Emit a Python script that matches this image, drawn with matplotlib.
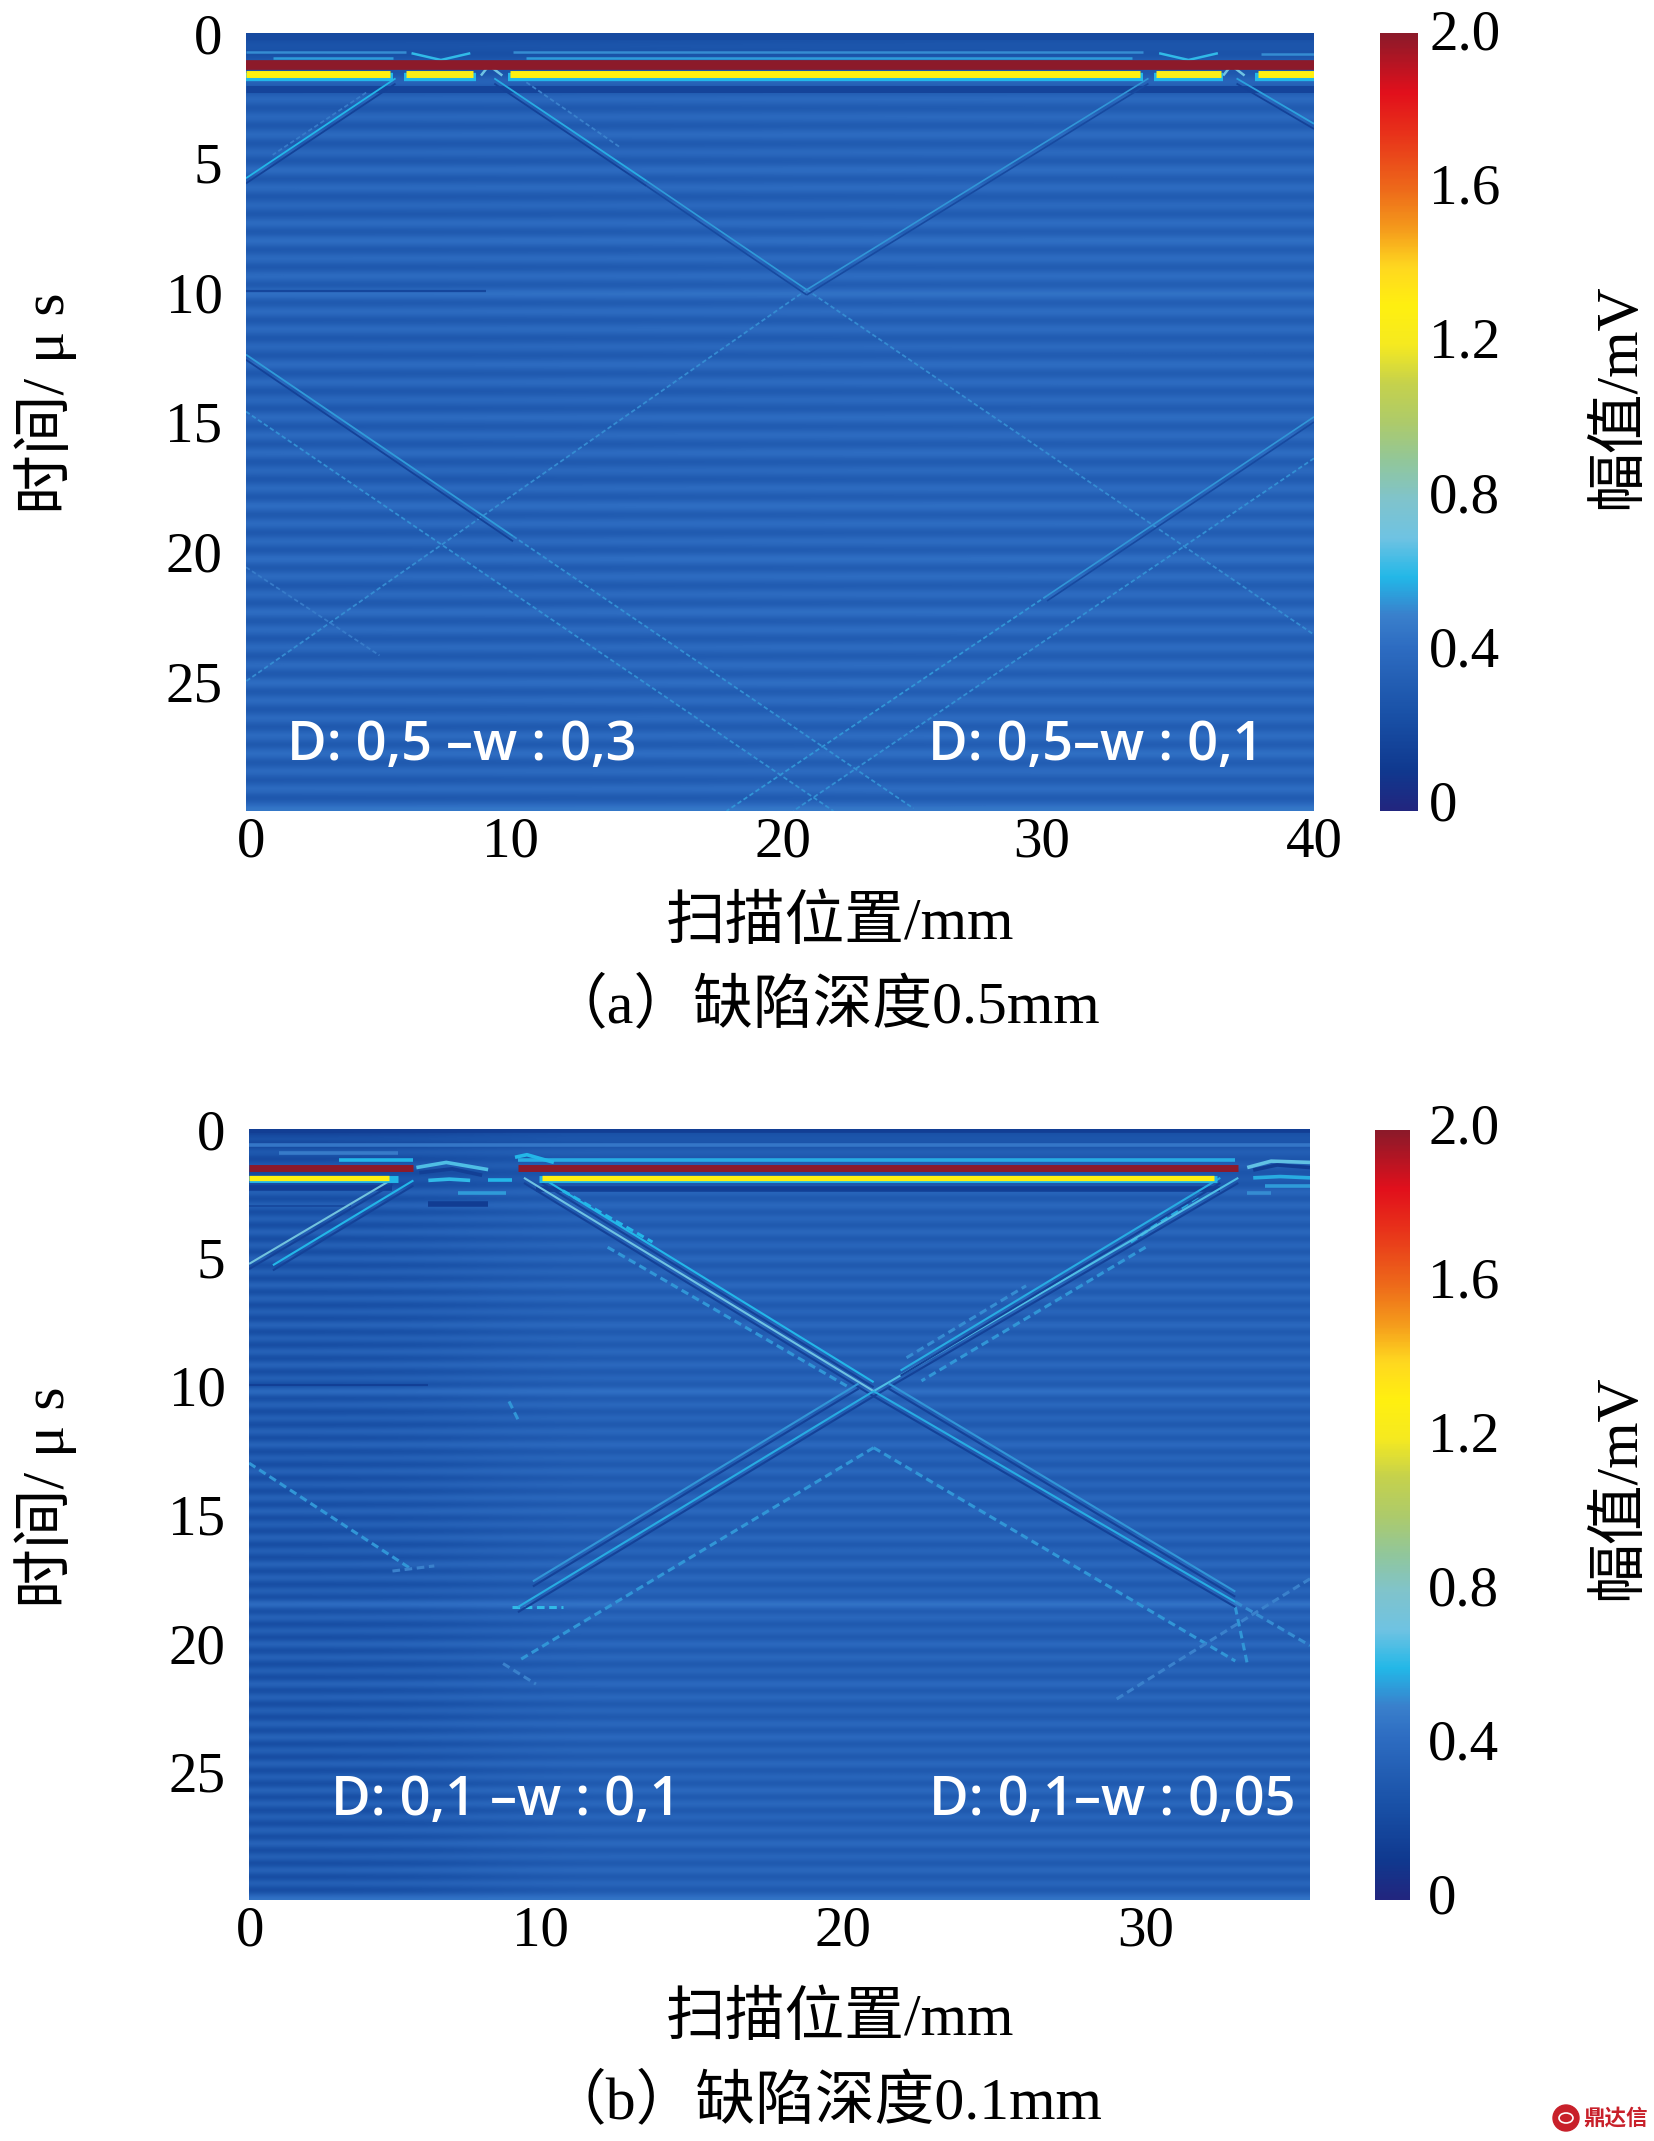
import matplotlib
matplotlib.use("Agg")
import matplotlib.pyplot as plt
import numpy as np
from matplotlib.colors import LinearSegmentedColormap, Normalize
from matplotlib.patches import Ellipse
from matplotlib.transforms import ScaledTranslation

W, H = 1654, 2141
serif = ["Liberation Serif", "Noto Sans CJK SC"]
plt.rcParams["font.family"] = serif

# colour bar
cb_values = [0, 0.1, 0.25, 0.42, 0.5, 0.6, 0.7, 0.8, 0.9, 1.0, 1.1, 1.2, 1.3, 1.4, 1.5, 1.6, 1.75, 1.85, 2.0]
cb_colors = ["#22267f", "#10398f", "#1a52a8", "#2e6dc2", "#3a80cc", "#23b8e8", "#6fc3e3", "#80c4cc",
             "#92c79a", "#aecb6a", "#c6d24c", "#f6ea20", "#fff010", "#ffd820", "#f59a1c", "#ee6a1a",
             "#e8301a", "#e2101c", "#8c1a2a"]
cb_ticks = [0, 0.4, 0.8, 1.2, 1.6, 2.0]
cb_ticklabels = ["0", "0.4", "0.8", "1.2", "1.6", "2.0"]

t_ticks = [0, 5, 10, 15, 20, 25]
x_ticks_a = [0, 10, 20, 30, 40]
x_ticks_b = [0, 10, 20, 30]

# stripe levels, one per bright band, top to bottom
stripes_a = [0.30, 0.38, 0.44, 0.48, 0.48, 0.50, 0.48, 0.51, 0.50, 0.48, 0.51, 0.53, 0.50, 0.51, 0.55,
             0.51, 0.50, 0.48, 0.51, 0.50, 0.48, 0.51, 0.50, 0.51, 0.48, 0.50, 0.53, 0.51, 0.50, 0.53,
             0.51, 0.50, 0.53, 0.51, 0.50, 0.51, 0.53, 0.51, 0.50, 0.51, 0.53, 0.50, 0.51, 0.48]
dark_a = 0.23
stripes_b = [0.30, 0.38, 0.38, 0.34, 0.44, 0.46, 0.44, 0.46, 0.44, 0.46, 0.44, 0.47, 0.46, 0.44, 0.47,
             0.44, 0.46, 0.47, 0.44, 0.53, 0.46, 0.44, 0.46, 0.47, 0.44, 0.46, 0.44, 0.46, 0.47, 0.44,
             0.46, 0.44, 0.47, 0.46, 0.44, 0.55, 0.46, 0.44, 0.47, 0.46, 0.44, 0.47, 0.46, 0.44, 0.46,
             0.47, 0.44, 0.46, 0.44, 0.47, 0.46, 0.44, 0.46, 0.47, 0.44, 0.46, 0.44, 0.46]
dark_b = 0.23
# how much darker the dark stripes get, column by column from the left edge
fade_a = [0.04, 0.02, 0, 0]
fade_b = [0.11, 0.11, 0.10, 0.09, 0.07, 0.04, 0.02, 0, 0, 0, 0, 0, 0, 0, 0, 0, 0, 0, 0, 0, 0, 0, 0, 0]

# (x values mm, t values us, amplitude mV)
thick_a = [([0, 40], [1.24, 1.24], 2.0)]
edge_a = [([0, 5.5], [1.7, 1.7], 0.6), ([5.9, 8.6], [1.7, 1.7], 0.6), ([9.8, 33.6], [1.7, 1.7], 0.6),
          ([34.0, 36.6], [1.7, 1.7], 0.6), ([37.8, 40], [1.7, 1.7], 0.6)]
yellow_a = [([0, 5.4], [1.6, 1.6], 1.3), ([6.0, 8.5], [1.6, 1.6], 1.25), ([9.9, 33.5], [1.6, 1.6], 1.3),
            ([34.1, 36.5], [1.6, 1.6], 1.25), ([37.9, 40], [1.6, 1.6], 1.3)]
navy_a = [([0, 40], [2.15, 2.15], 0.17), ([0, 40], [0.1, 0.1], 0.2)]
top_a = [([0, 6.0], [0.73, 0.73], 0.52), ([1.0, 5.5], [0.95, 0.95], 0.55), ([10, 33.6], [0.73, 0.73], 0.52),
         ([10.5, 33.2], [0.95, 0.95], 0.55), ([38, 40], [0.8, 0.8], 0.52),
         ([6.2, 7.3, 8.4], [0.78, 1.04, 0.78], 0.62), ([34.2, 35.3, 36.4], [0.78, 1.04, 0.78], 0.62),
         ([8.8, 9.1, 9.6], [1.64, 1.25, 1.64], 0.7), ([36.6, 36.9, 37.4], [1.64, 1.25, 1.64], 0.7),
         ([6.5, 8.8], [1.3, 1.3], 1.75), ([34.5, 36.6], [1.2, 1.2], 1.7)]
strong_a = [([0, 5.6], [5.6, 1.75], 0.6), ([9.3, 15], [1.75, 5.7], 0.58), ([37.1, 40], [1.75, 3.5], 0.56),
            ([0, 10], [12.4, 19.4], 0.55)]
mid_a = [([15, 21], [5.7, 9.9], 0.55), ([33.8, 21], [1.75, 9.9], 0.54), ([40, 30], [14.8, 21.7], 0.54)]
faint_a = [([21, 40], [9.9, 23.2], 0.52), ([21, 0], [9.9, 25], 0.52), ([10, 25], [19.4, 29.9], 0.53),
           ([30, 18], [21.7, 30], 0.54), ([0, 22], [14.6, 30], 0.53), ([40, 20.5], [16.4, 30], 0.53),
           ([10.5, 14], [1.9, 4.4], 0.5), ([4.5, 1], [2.3, 4.7], 0.48), ([0, 5], [20.6, 24], 0.48)]
dark_marks_a = [([0, 9], [9.95, 9.95], 0.18)]

thick_b = [([0, 5.5], [1.5, 1.5], 2.0), ([9.0, 33.1], [1.5, 1.5], 2.0)]
edge_b = [([0, 5.0], [1.95, 1.95], 0.6), ([9.7, 32.4], [1.95, 1.95], 0.6)]
yellow_b = [([0, 4.7], [1.9, 1.9], 1.3), ([9.8, 32.3], [1.9, 1.9], 1.3)]
navy_b = [([0, 4.8], [2.3, 2.3], 0.14), ([9.6, 32.5], [2.35, 2.35], 0.14), ([0, 35.5], [0.05, 0.05], 0.13),
          ([6, 8], [2.9, 2.9], 0.12)]
top_b = [([0, 35.5], [0.62, 0.62], 0.46), ([1, 5], [0.93, 0.93], 0.48), ([3, 5.5], [1.2, 1.2], 0.6),
         ([9, 33], [1.22, 1.22], 0.58), ([5.6, 6.6, 8.0], [1.5, 1.3, 1.58], 0.66),
         ([6.0, 6.7, 7.4], [2.0, 1.95, 2.0], 0.62), ([5.7, 6.8, 7.8], [1.7, 1.55, 1.8], 0.14),
         ([8.0, 8.8], [2.0, 2.0], 0.6), ([7.0, 8.6], [2.5, 2.5], 0.55), ([8.9, 9.3, 10.2], [1.1, 1.0, 1.3], 0.6),
         ([33.4, 34.2, 35.5], [1.5, 1.25, 1.3], 0.68), ([33.6, 34.4, 35.5], [1.6, 1.4, 1.5], 0.12),
         ([33.6, 34.5, 35.5], [1.9, 1.85, 1.9], 0.58), ([34, 35.5], [2.2, 2.2], 0.55), ([33.4, 34.2], [2.5, 2.5], 0.52)]
strong_b = [([0, 4.8], [5.25, 1.95], 0.72), ([0.8, 5.5], [5.3, 2.0], 0.6), ([9.2, 20.9], [1.9, 10.2], 0.7),
            ([9.8, 20.9], [1.9, 9.85], 0.6), ([33.1, 20.9], [1.9, 10.2], 0.66), ([32.5, 21.8], [1.9, 9.4], 0.58),
            ([20.9, 33], [10.2, 18.4], 0.58), ([20.9, 9], [10.2, 18.6], 0.58), ([21.4, 33], [9.9, 18], 0.54),
            ([20.4, 9.5], [9.9, 17.6], 0.54)]
faint_b = [([0, 5.4], [13, 17.1], 0.54), ([20.9, 33], [12.4, 20.7], 0.54), ([20.9, 9], [12.4, 20.7], 0.54),
           ([12, 20], [4.6, 10], 0.54), ([30, 22.5], [4.6, 9.8], 0.54), ([22, 26], [8.9, 6.1], 0.52),
           ([33, 35.5], [18.4, 20.1], 0.52), ([35.5, 29], [17.5, 22.2], 0.5), ([10.5, 13.5], [2.4, 4.4], 0.6),
           ([29.5, 31.8], [4.4, 2.6], 0.58), ([8.5, 9.6], [20.8, 21.6], 0.5), ([8.7, 9.0], [10.6, 11.3], 0.54),
           ([8.8, 10.5], [18.6, 18.6], 0.62), ([4.8, 6.2], [17.2, 17], 0.5), ([33, 33.4], [18.6, 20.8], 0.54)]
dark_marks_b = [([0, 6], [9.95, 9.95], 0.14), ([0, 3.4], [3.0, 3.0], 0.2)]

cmap = LinearSegmentedColormap.from_list("bar", [(v / 2.0, c) for v, c in zip(cb_values, cb_colors)], N=512)
norm = Normalize(0, 2)


def draw(ax, feats, lw, shade=None, dashed=False):
    for xs, ts, val in feats:
        if shade is not None:
            ax.plot(xs, np.array(ts) + 0.2, color=cmap(norm(shade)), lw=lw, solid_capstyle="butt")
        style = (0, (2.5, 1.5)) if dashed else "-"
        ax.plot(xs, ts, color=cmap(norm(val)), lw=lw, ls=style, solid_capstyle="butt", dash_capstyle="butt")


def panel(box, xmax, xticks, x_shift, stripes, dark, fade, layers, notes, caption, label_y):
    left, top, right, bottom = box
    ax = fig.add_axes([left / W, 1 - bottom / H, (right - left) / W, (bottom - top) / H])
    img = np.zeros((len(stripes) * 2, len(fade)))
    img[1::2] = np.array(stripes)[:, None]
    img[0::2] = dark - np.array(fade)
    ax.imshow(img, cmap=cmap, norm=norm, aspect="auto", extent=[0, xmax, 30, 0], interpolation="bicubic")
    for feats, lw, shade, dashed in layers:
        draw(ax, feats, lw, shade, dashed)
    ax.set_xlim(0, xmax)
    ax.set_ylim(30, 0)
    ax.set_xticks(xticks)
    ax.set_yticks(t_ticks)
    ax.tick_params(length=0, labelsize=41)
    ax.tick_params(axis="y", pad=17)
    ax.tick_params(axis="x", pad=4)
    for lab, dx in zip(ax.get_xticklabels(), x_shift):
        lab.set_transform(lab.get_transform() + ScaledTranslation(dx / 100, 0, fig.dpi_scale_trans))
    for s in ax.spines.values():
        s.set_visible(False)
    ax.set_xlabel("扫描位置/mm", fontsize=43)
    ax.xaxis.set_label_coords(840 / W, 1 - (top + 891) / H, transform=fig.transFigure)
    ax.xaxis.label.set_va("center")
    ax.set_ylabel("时间/ μ s", fontsize=43)
    ax.yaxis.set_label_coords(46 / W, 1 - label_y / H, transform=fig.transFigure)
    ax.yaxis.label.set_va("center")
    for x, t, s in notes:
        ax.text(x, t, s, color="white", fontsize=39, family="Open Sans", fontweight=600,
                va="baseline", ha="left")
    fig.text(824 / W, 1 - (top + 974) / H, caption, fontsize=43, ha="center", va="center")
    return ax


def color_bar(box, label_y, pad, top_shift, bottom_shift):
    left, top, right, bottom = box
    cax = fig.add_axes([left / W, 1 - bottom / H, (right - left) / W, (bottom - top) / H])
    im = cax.imshow(np.linspace(2, 0, 400)[:, None], cmap=cmap, norm=norm, aspect="auto",
                    extent=[0, 1, 0, 2])
    cax.set_xticks([])
    cax.yaxis.tick_right()
    cax.set_yticks(cb_ticks)
    cax.set_yticklabels(cb_ticklabels)
    cax.tick_params(length=0, labelsize=41, pad=pad)
    for lab, v in zip(cax.get_yticklabels(), cb_ticks):
        dy = bottom_shift + (top_shift - bottom_shift) * v / 2.0
        lab.set_transform(lab.get_transform() + ScaledTranslation(0, dy / 100, fig.dpi_scale_trans))
    for s in cax.spines.values():
        s.set_visible(False)
    cax.set_ylabel("幅值/mV", fontsize=43)
    cax.yaxis.set_label_position("right")
    cax.yaxis.set_label_coords(1620 / W, 1 - label_y / H, transform=fig.transFigure)
    cax.yaxis.label.set_va("center")
    cax.yaxis.label.set_rotation(90)
    return im


fig = plt.figure(figsize=(W / 100, H / 100), dpi=100)

layers_a = [(navy_a, 5, None, False), (faint_a, 1.3, None, True), (mid_a, 1.2, 0.2, False),
            (strong_a, 1.3, 0.16, False), (dark_marks_a, 1.6, None, False), (top_a, 1.8, None, False),
            (edge_a, 6, None, False), (thick_a, 7, None, False), (yellow_a, 5, None, False)]
layers_b = [(navy_b, 4, None, False), (dark_marks_b, 1.5, None, False), (faint_b, 2.2, None, True),
            (strong_b, 1.5, 0.16, False), (edge_b, 5, None, False), (thick_b, 5, None, False),
            (yellow_b, 3.8, None, False), (top_b, 2.6, None, False)]

panel((246, 33, 1314, 811), 40, x_ticks_a, [5, -3, 3, -5, 0], stripes_a, dark_a, fade_a, layers_a,
      [(1.55, 28.05, "D: 0,5 –w : 0,3"), (25.55, 28.05, "D: 0,5–w : 0,1")],
      "（a）缺陷深度0.5mm", 403)
panel((249, 1129, 1310, 1900), 35.5, x_ticks_b, [1, -7, -4, 0], stripes_b, dark_b, fade_b, layers_b,
      [(2.75, 26.7, "D: 0,1 –w : 0,1"), (22.75, 26.7, "D: 0,1–w : 0,05")],
      "（b）缺陷深度0.1mm", 1497)
color_bar((1380, 33, 1418, 811), 396, 8, 3.5, 10.4)
color_bar((1375, 1130, 1410, 1900), 1487, 13, 7, 6)

# publisher mark
fig.text(1583 / W, 1 - 2118 / H, "鼎达信", color="#c8202a", fontsize=15.5, fontweight="bold",
         family="Noto Sans CJK SC", ha="left", va="center")
fig.add_artist(Ellipse((1566 / W, 1 - 2118 / H), 26 / W, 26 / H, transform=fig.transFigure, color="#c8202a"))
fig.add_artist(Ellipse((1566 / W, 1 - 2118 / H), 14 / W, 10 / H, transform=fig.transFigure,
                       facecolor="none", edgecolor="white", lw=1.2))

fig.savefig("out.png", dpi=100)
